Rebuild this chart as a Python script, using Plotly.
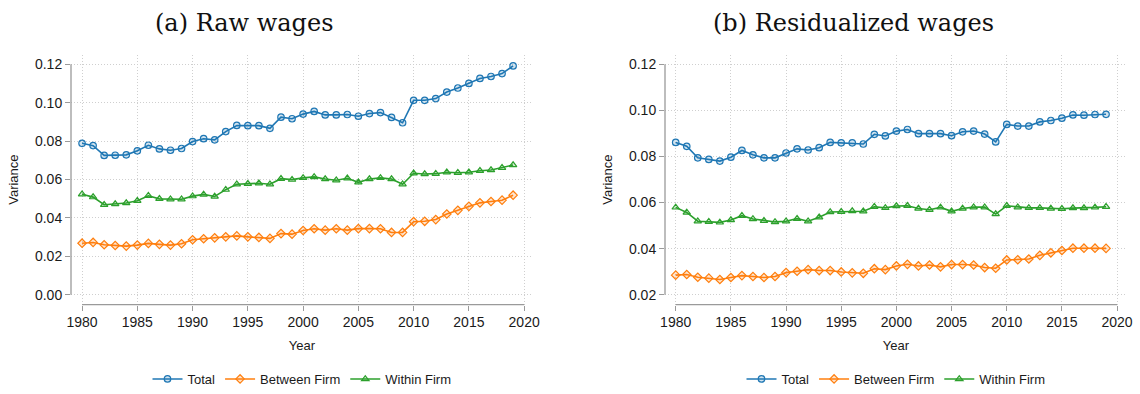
import plotly.graph_objects as go

years = list(range(1980, 2020))

raw_total = [0.0788, 0.0776, 0.0725, 0.0726, 0.0728, 0.0749, 0.0778, 0.0759, 0.0752, 0.0761,
             0.0797, 0.0812, 0.0806, 0.0849, 0.0881, 0.0880, 0.0880, 0.0866, 0.0924, 0.0916,
             0.0940, 0.0954, 0.0936, 0.0936, 0.0938, 0.0929, 0.0943, 0.0948, 0.0923, 0.0895,
             0.1012, 0.1012, 0.1021, 0.1055, 0.1076, 0.1100, 0.1126, 0.1136, 0.1151, 0.1191]
raw_between = [0.0268, 0.0272, 0.0260, 0.0256, 0.0253, 0.0258, 0.0267, 0.0262, 0.0258, 0.0265,
               0.0286, 0.0291, 0.0296, 0.0301, 0.0306, 0.0301, 0.0298, 0.0293, 0.0318, 0.0315,
               0.0334, 0.0343, 0.0336, 0.0343, 0.0336, 0.0344, 0.0344, 0.0343, 0.0324, 0.0324,
               0.0380, 0.0382, 0.0391, 0.0420, 0.0439, 0.0460, 0.0478, 0.0485, 0.0492, 0.0518]
raw_within = [0.0523, 0.0508, 0.0468, 0.0472, 0.0477, 0.0489, 0.0515, 0.0499, 0.0497, 0.0497,
              0.0513, 0.0522, 0.0511, 0.0547, 0.0575, 0.0577, 0.0580, 0.0575, 0.0604, 0.0599,
              0.0608, 0.0613, 0.0602, 0.0596, 0.0606, 0.0585, 0.0602, 0.0608, 0.0602, 0.0575,
              0.0632, 0.0628, 0.0630, 0.0637, 0.0635, 0.0637, 0.0645, 0.0649, 0.0661, 0.0675]

res_total = [0.0861, 0.0844, 0.0794, 0.0787, 0.0780, 0.0797, 0.0826, 0.0807, 0.0794, 0.0794,
             0.0815, 0.0833, 0.0828, 0.0838, 0.0861, 0.0859, 0.0859, 0.0854, 0.0896, 0.0889,
             0.0910, 0.0917, 0.0899, 0.0899, 0.0899, 0.0890, 0.0907, 0.0910, 0.0897, 0.0863,
             0.0939, 0.0932, 0.0932, 0.0950, 0.0956, 0.0966, 0.0980, 0.0979, 0.0982, 0.0983]
res_between = [0.0285, 0.0288, 0.0276, 0.0272, 0.0266, 0.0275, 0.0283, 0.0279, 0.0275, 0.0279,
               0.0296, 0.0302, 0.0309, 0.0305, 0.0305, 0.0299, 0.0295, 0.0293, 0.0313, 0.0309,
               0.0325, 0.0332, 0.0325, 0.0329, 0.0321, 0.0331, 0.0331, 0.0329, 0.0318, 0.0315,
               0.0351, 0.0352, 0.0355, 0.0371, 0.0382, 0.0392, 0.0402, 0.0402, 0.0402, 0.0401]
res_within = [0.0579, 0.0557, 0.0519, 0.0517, 0.0514, 0.0524, 0.0543, 0.0529, 0.0521, 0.0516,
              0.0519, 0.0530, 0.0519, 0.0536, 0.0559, 0.0560, 0.0563, 0.0562, 0.0582, 0.0577,
              0.0585, 0.0586, 0.0574, 0.0569, 0.0579, 0.0562, 0.0574, 0.0580, 0.0580, 0.0550,
              0.0586, 0.0580, 0.0577, 0.0577, 0.0574, 0.0573, 0.0576, 0.0576, 0.0579, 0.0582]

x_ticks = [1980, 1985, 1990, 1995, 2000, 2005, 2010, 2015, 2020]
raw_y_ticks = [0.00, 0.02, 0.04, 0.06, 0.08, 0.10, 0.12]
res_y_ticks = [0.02, 0.04, 0.06, 0.08, 0.10, 0.12]

series_names = ["Total", "Between Firm", "Within Firm"]
colors = ["#1f77b4", "#ff7f0e", "#2ca02c"]
fills = ["rgba(31,119,180,0.2)", "rgba(255,127,14,0.2)", "rgba(44,160,44,0.2)"]
symbols = ["circle", "diamond", "triangle-up"]
raw_data = [raw_total, raw_between, raw_within]
res_data = [res_total, res_between, res_within]

fig = go.Figure()
for i, name in enumerate(series_names):
    for data, xa, ya, lg in [(raw_data[i], "x", "y", "legend"), (res_data[i], "x2", "y2", "legend2")]:
        fig.add_trace(go.Scatter(
            x=years, y=data, name=name, mode="lines+markers",
            line=dict(color=colors[i], width=1.6),
            marker=dict(symbol=symbols[i], size=6.5, color=fills[i],
                        line=dict(color=colors[i], width=1.2)),
            xaxis=xa, yaxis=ya, legend=lg))

AXC = "#9a9a9a"
GRID = "#cfcfcf"
TICKF = dict(family="Liberation Sans, Arial, sans-serif", size=14, color="#1a1a1a")
TITLEF = dict(family="Liberation Sans, Arial, sans-serif", size=13, color="#1a1a1a")

xcommon = dict(tickmode="array", tickvals=x_ticks, ticks="outside", ticklen=5, tickcolor=AXC,
               showgrid=True, gridcolor=GRID, griddash="1px,2px", gridwidth=1, zeroline=False,
               showline=False, tickfont=TICKF, automargin=False,
               title=dict(text="Year", font=TITLEF, standoff=11))
ycommon = dict(tickmode="array", ticks="outside", ticklen=5, tickcolor=AXC, tickformat=".2f",
               showgrid=True, gridcolor=GRID, griddash="1px,2px", gridwidth=1, zeroline=False,
               showline=False, tickfont=TICKF, automargin=False,
               title=dict(text="Variance", font=TITLEF, standoff=13))

ydom = [1 - 307 / 394, 1 - 55 / 394]
fig.update_layout(
    width=1140, height=394, margin=dict(l=0, r=0, t=0, b=0),
    paper_bgcolor="white", plot_bgcolor="white",
    xaxis=dict(domain=[71 / 1140, 533 / 1140], range=[1979.0, 2020.8], anchor="y", **xcommon),
    yaxis=dict(domain=ydom, range=[-0.0052, 0.125], tickvals=raw_y_ticks, anchor="x", **ycommon),
    xaxis2=dict(domain=[665 / 1140, 1127 / 1140], range=[1979.03, 2020.9], anchor="y2", **xcommon),
    yaxis2=dict(domain=ydom, range=[0.0157, 0.1242], tickvals=res_y_ticks, anchor="x2", **ycommon),
    legend=dict(orientation="h", x=302 / 1140, xanchor="center", y=1 - 382 / 394, yanchor="middle",
                font=dict(family="Liberation Sans, Arial, sans-serif", size=13, color="#1a1a1a")),
    legend2=dict(orientation="h", x=896 / 1140, xanchor="center", y=1 - 382 / 394, yanchor="middle",
                 font=dict(family="Liberation Sans, Arial, sans-serif", size=13, color="#1a1a1a")),
    showlegend=True,
)

# Stata-style axis lines spanning the tick range only
shapes = []
for xa, ya, yt in [("x", "y", raw_y_ticks), ("x2", "y2", res_y_ticks)]:
    shapes.append(dict(type="line", xref=xa + " domain", yref=ya, x0=0, x1=0,
                       y0=min(yt), y1=max(yt), line=dict(color=AXC, width=1.3)))
    shapes.append(dict(type="line", xref=xa, yref=ya + " domain", x0=min(x_ticks), x1=max(x_ticks),
                       y0=0, y1=0, line=dict(color=AXC, width=1.3)))
fig.update_layout(shapes=shapes)

TF = dict(family="DejaVu Serif, serif", size=24, color="#111111")
fig.add_annotation(text="(a) Raw wages", x=244 / 1140, y=1 - 23 / 394, xref="paper", yref="paper",
                   xanchor="center", yanchor="middle", showarrow=False, font=TF)
fig.add_annotation(text="(b) Residualized wages", x=853 / 1140, y=1 - 23 / 394, xref="paper", yref="paper",
                   xanchor="center", yanchor="middle", showarrow=False, font=TF)

fig.write_html("out.html", config={"displayModeBar": False},
               post_script="document.body.style.margin='0';document.body.style.overflow='hidden';")
